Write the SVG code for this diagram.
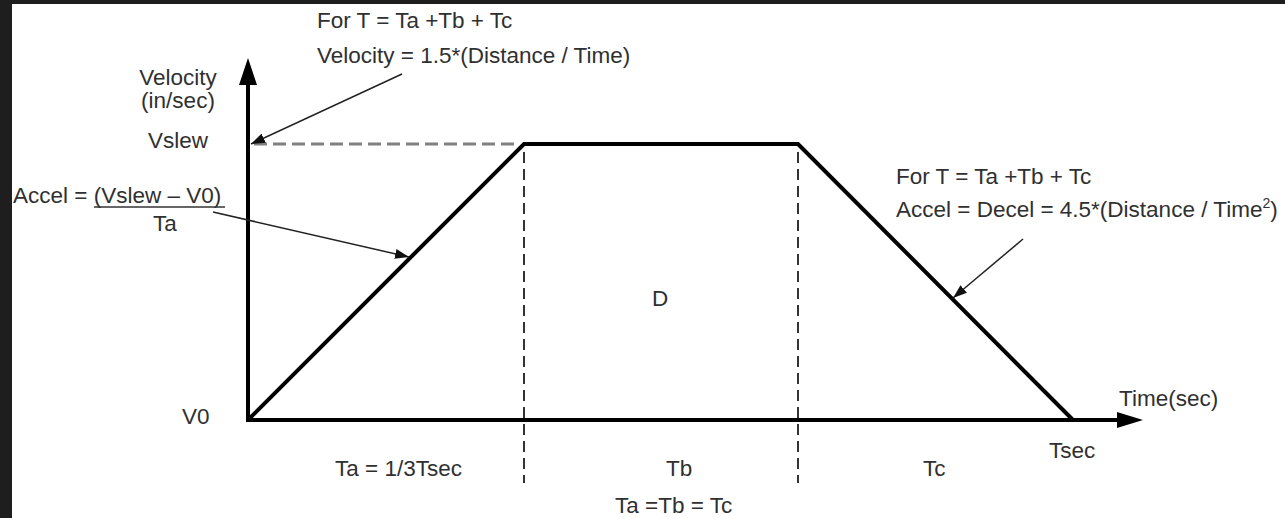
<svg xmlns="http://www.w3.org/2000/svg" width="1285" height="518" viewBox="0 0 1285 518">
<defs>
<style>
text{font-family:"Liberation Sans",Arial,sans-serif;font-size:22.5px;fill:#303030}
.thick{stroke:#000;stroke-width:4;fill:none}
.vdash{stroke:#333;stroke-width:2;stroke-dasharray:11 6;fill:none}
.hdash{stroke:#808080;stroke-width:3;stroke-dasharray:13 6;fill:none}
.note{stroke:#222;stroke-width:1.5;fill:none;marker-end:url(#ah)}
</style>
<marker id="ah" viewBox="0 0 14 10" refX="14" refY="5" markerWidth="14" markerHeight="10" markerUnits="userSpaceOnUse" orient="auto">
<path d="M0,0 L14,5 L0,10 z" fill="#111"/>
</marker>
</defs>
<rect x="0" y="0" width="1285" height="518" fill="#fff"/>
<rect x="0" y="0" width="1285" height="4" fill="#1e1e1e"/>
<rect x="0" y="0" width="12" height="518" fill="#1e1e1e"/>

<g id="axes">
<line class="thick" x1="248" y1="422" x2="248" y2="80"/>
<path d="M248,58 L257,85 L239,85 z" fill="#000"/>
<line class="thick" x1="246" y1="420" x2="1120" y2="420"/>
<path d="M1143,420 L1117,412 L1117,428 z" fill="#000"/>
</g>

<g id="profile">
<polyline class="thick" points="248,420 524,144 798,144 1073,420" stroke-linejoin="miter"/>
</g>

<g id="guides">
<line class="hdash" x1="254" y1="144" x2="520" y2="144"/>
<line class="vdash" x1="524" y1="152" x2="524" y2="483"/>
<line class="vdash" x1="798" y1="152" x2="798" y2="483"/>
</g>

<g id="connectors">
<line class="note" x1="402" y1="74" x2="251" y2="144"/>
<line class="note" x1="213" y1="212" x2="409" y2="257"/>
<line class="note" x1="1023" y1="239" x2="953" y2="298"/>
</g>

<g id="label-top">
<text x="317" y="28">For T = Ta +Tb + Tc</text>
<text x="317" y="63">Velocity = 1.5*(Distance / Time)</text>
</g>

<g id="label-yaxis">
<text x="178" y="85" text-anchor="middle">Velocity</text>
<text x="178" y="108" text-anchor="middle">(in/sec)</text>
<text x="178" y="148" text-anchor="middle">Vslew</text>
<text x="182" y="424">V0</text>
</g>

<g id="label-accel">
<text x="13" y="203">Accel = (Vslew – V0)</text>
<line x1="94" y1="207" x2="225" y2="207" stroke="#333" stroke-width="1.5"/>
<text x="153" y="231">Ta</text>
</g>

<g id="label-decel">
<text x="896" y="184">For T = Ta +Tb + Tc</text>
<text x="896" y="217">Accel = Decel = 4.5*(Distance / Time<tspan font-size="14" dy="-9">2</tspan><tspan dy="9">)</tspan></text>
</g>

<g id="label-D">
<text x="652" y="306">D</text>
</g>

<g id="label-xaxis">
<text x="1119" y="406">Time(sec)</text>
<text x="1049" y="458">Tsec</text>
<text x="335" y="476">Ta = 1/3Tsec</text>
<text x="666" y="476">Tb</text>
<text x="923" y="476">Tc</text>
<text x="615" y="513">Ta =Tb = Tc</text>
</g>
</svg>
